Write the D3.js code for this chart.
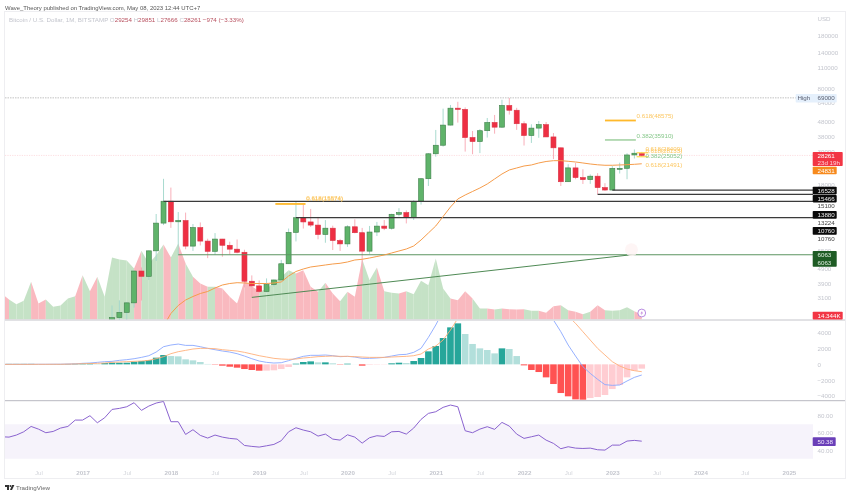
<!DOCTYPE html>
<html>
<head>
<meta charset="utf-8">
<style>
	html, body { margin: 0; padding: 0; background: #fff; }
	svg { display: block; filter: blur(0.3px); }
	text { font-family: "Liberation Sans", Inter, sans-serif; font-size: 6.2px; }
	.axis text { fill: #c4c6ce; }
	.axis .domain, .axis line { display: none; }
</style>
<script src="https://cdn.jsdelivr.net/npm/d3@7"></script>
</head>
<body>
<div id="graph"></div>
<script>
// monthly candles, first entry is 2016-02, rows are calendar years
const opens = [
	368,437,416,448,531,673,624,575,608,700,745,
	968,963,1190,1080,1348,2286,2480,2875,4710,4340,6440,9900,
	13900,10100,10300,6930,9240,7490,6390,7730,7020,6610,6300,4020,
	3740,3430,3820,4100,5270,8570,10760,10080,9600,8300,9150,7560,
	7170,9350,8530,6410,8620,9450,9140,11350,11650,10780,13800,19700,
	28990,33100,45240,58800,57700,37300,35040,41460,47100,43800,61300,56950,
	46200,38480,43170,45550,37650,31800,18800,23300,20050,19420,20490,17170,
	16528,23130,23140,28470,29254];
const highs = [
	448,440,470,550,780,705,630,660,740,755,980,
	1150,1200,1350,1350,2760,2990,2910,4740,4980,6470,11400,19666,
	17170,11750,11650,9760,10000,7770,8480,7750,7420,7680,6550,4400,
	4070,4200,4120,5600,9100,13880,13150,12330,10900,10370,9510,7750,
	9575,10500,9190,9470,10080,10380,11440,12470,12060,14100,19880,29300,
	41950,58350,61780,64900,59500,41300,42500,50500,52920,67000,69000,59100,
	47990,45800,48200,47450,40000,31950,24650,25200,22800,21050,21470,18380,
	23960,25250,29200,31000,29851];
const lows = [
	365,405,410,440,520,600,530,570,600,690,740,
	750,920,890,1060,1337,2076,1830,2670,2980,4100,5500,9600,
	9200,6000,6600,6430,7000,5750,6070,5880,6100,6200,3650,3130,
	3350,3380,3700,4100,5250,7450,9100,9320,7700,7300,6520,6430,
	6850,8450,3850,6150,8100,8880,8950,11000,9850,10400,13200,17600,
	27700,32400,44950,47000,30000,28800,29300,37300,39600,43300,53250,42000,
	32950,34300,37150,37600,26700,17600,18800,19550,18150,18180,15466,16300,
	16500,21350,19550,26950,27666];
const closes = [
	437,416,448,531,673,624,575,608,700,745,968,
	963,1190,1080,1348,2286,2480,2875,4710,4340,6440,9900,13900,
	10100,10300,6930,9240,7490,6390,7730,7020,6610,6300,4020,3740,
	3430,3820,4100,5270,8570,10760,10080,9600,8300,9150,7560,7170,
	9350,8530,6410,8620,9450,9140,11350,11650,10780,13800,19700,28990,
	33100,45240,58800,57700,37300,35040,41460,47100,43800,61300,56950,46200,
	38480,43170,45550,37650,31800,18800,23300,20050,19420,20490,17170,16528,
	23130,23140,28470,29254,28261];
const volumes = [
	78,60,46,56,113,48,60,38,42,63,70,
	133,85,128,68,186,180,177,153,206,168,193,225,
	186,228,168,128,108,98,98,93,68,48,116,100,
	85,90,113,128,148,138,148,98,83,110,78,55,
	83,68,181,118,156,85,80,78,85,76,116,103,
	183,93,63,58,85,63,33,33,30,33,31,30,
	31,26,26,20,40,43,28,23,16,23,43,28,
	26,28,37,25,14.344];
// moving average starts at 2017-12
const maStart = 11;
const maValues = [
	2008,
	2438,2760,3005,3173,3324,3429,3620,3792,3881,3930,3912,3881,
	3881,3881,3912,3973,4360,4675,4860,5013,5091,5171,5252,5309,
	5417,5588,5649,5763,5899,6038,6228,6424,6627,6942,7619,8492,
	9466,10968,12708,14386,15306,16162,17062,18155,19617,21197,22555,23262,
	23994,24372,25141,25730,26052,26052,25811,25532,25141,24750,24447,24261,
	24261,24372,24480,24630,24831];
const macdHist = [
	60,60,60,60,60,40,30,30,40,50,70,
	130,170,60,170,210,210,210,340,425,550,850,1190,
	1060,1020,640,510,300,50,-40,-170,-300,-425,-600,-720,
	-810,-800,-760,-600,-340,85,300,380,255,255,130,-40,
	85,10,-170,-60,-40,-30,130,210,170,425,810,1660,
	2340,3360,4720,5230,3870,2600,2040,1830,1400,2040,1960,1060,
	-130,-720,-980,-1660,-2510,-3660,-4080,-4470,-4510,-4300,-4170,-3910,
	-3150,-2640,-1660,-810,-550];
const macdLine = [
	0,0,0,0,5,10,10,15,20,40,60,
	130,170,255,340,380,510,595,720,890,1105,1570,2250,
	2465,2590,2420,2420,2250,2040,1870,1700,1570,1360,1060,720,
	425,255,170,210,470,765,1020,1150,1150,1190,1105,980,
	1020,935,765,765,810,890,1060,1230,1275,1530,2040,3440,
	5015,6800,8700,9700,10200,10500,10700,10800,10900,11300,11000,10300,
	9700,9000,8000,7200,5650,4165,2465,1060,-300,-1150,-1910,-2590,
	-2680,-2635,-2125,-1660,-1360];
const macdSignal = [
	0,0,0,0,0,5,5,10,10,30,50,
	85,100,130,170,255,300,340,380,425,510,720,980,
	1360,1615,1785,1955,2040,2040,2000,1870,1785,1700,1530,1320,
	1105,935,765,680,640,680,810,890,980,1020,1060,1020,
	1020,980,935,890,890,890,935,980,1020,1105,1320,1955,
	2340,3100,4380,5865,6900,7700,8300,8800,9100,9400,9600,9800,
	9800,9700,9400,8800,8100,6900,6160,5230,4165,3100,2040,1190,
	340,-210,-595,-810,-935];
const rsiValues = [
	55.5,55.1,57.5,61.3,67.5,64.4,60.2,61.7,65.6,67.5,74.9,
	74.9,80,71.8,77.6,87.3,88.5,90.4,95.1,86.2,91.2,94.7,96.6,
	73,73,58.2,63.7,57.1,54,57.5,55.1,53.6,52.8,45.4,44.3,
	43.5,45,46.6,50.9,61.3,66,63.3,61.3,56.3,58.6,52.8,51.6,
	57.8,55.1,48.1,54.4,56.7,55.9,61.3,61.7,58.6,65.6,75.7,82.7,
	84.6,89.7,92.4,90.4,62.5,60.2,64.4,67.2,64.1,72.2,67.9,58.6,
	53.6,55.5,57.5,51.6,47.8,41.6,43.9,42.3,41.9,42.3,40.4,40,
	45.8,45.8,50.5,51.3,50.38];

// axis labels
const timeTicks = [-6,0,6,12,18,24,30,36,42,48,54,60,66,72,78,84,90,96];
const timeLabels = ["Jul","2017","Jul","2018","Jul","2019","Jul","2020","Jul","2021","Jul","2022","Jul","2023","Jul","2024","Jul","2025"];
const priceTicks = [180000,140000,110000,80000,64000,48000,38000,30000,18000,6500,4900,3900,3100];
const macdTicks = [4000,2000,0,-2000,-4000];
const rsiTicks = [80,60,40];

// drawn levels: price, first month (0 is 2017-01)
const levelPrices = [16528,15466,13880,10760];
const levelStarts = [72,70,11,29];
const supportPrice = 6063, supportStart = 13;
const trendMonths = [23,74.6], trendPrices = [3130,6063];
// fib segments: price, months
const fibPrices = [48575,35910,13320,29450,27700];
const fibFrom = [71,71,26.2,75.3,75.3];
const fibTo = [75.2,75.2,30.3,76.9,76.9];
const fibColors = ["#ffb92b","#6fb86f","#ffb92b","#ffd84d","#ffd84d"];
const fibNames = ["0.618(48575)","0.382(35910)","0.618(15574)","0.618(15574)","0.618(28409)","0.618(28133)","0.382(25052)","0.618(21491)"];
const fibTextMonths = [75.3,75.3,30.4,30.4,76.5,76.5,76.5,76.5];
const fibTextPrices = [52000,38500,14760,14390,31100,30500,27950,24600];
const fibTextColors = ["#fcc762","#86c78a","#fcc762","#fcc762","#fcc762","#fcc762","#86c78a","#fcc762"];

const width = 850, height = 496;
const paneLeft = 5, plotRight = 813, paneRight = 845, paneTop = 12;
const firstMonth = -11;

const graph = d3.select("div#graph")
	.append("svg")
	.attr("width", width)
	.attr("height", height);

const xScale = d3.scaleLinear().domain([0,96]).range([82.6,788.9]);
const yPrice = d3.scaleLog().domain([3100,180000]).range([298,36]);
const yVolume = d3.scaleLinear().domain([0,300]).range([319.5,219.5]);
const yMacd = d3.scaleLinear().domain([-4000,4000]).range([395.7,333]);
const yRsi = d3.scaleLinear().domain([40,80]).range([450.1,415.7]);

const month = i => firstMonth + i;

function clip(id, y0, y1) {
	graph.append("clipPath").attr("id", id)
		.append("rect")
		.attr("x", paneLeft).attr("y", y0)
		.attr("width", plotRight - paneLeft).attr("height", y1 - y0);
}
clip("pricePane", paneTop, 319.5);
clip("macdPane", 321, 400);
clip("rsiPane", 401, 479);

// price pane
const pricePane = graph.append("g").attr("clip-path", "url(#pricePane)");

// volume area, one piece per month coloured like the candle that ends it
const volumeArea = d3.area()
	.x(d => xScale(d.m))
	.y0(yVolume(0))
	.y1(d => yVolume(d.v));
for (let i = 1; i < volumes.length; i++) {
	pricePane.append("path")
		.datum([{m: month(i-1), v: volumes[i-1]}, {m: month(i), v: volumes[i]}])
		.attr("fill", closes[i] < opens[i] ? "#f9b9bf" : "#c5e2c6")
		.attr("d", volumeArea);
}

// last price and all time high
pricePane.append("line")
	.attr("x1", paneLeft).attr("x2", plotRight)
	.attr("y1", yPrice(28261)).attr("y2", yPrice(28261))
	.attr("stroke", "#fbd5d9").attr("stroke-width", 0.8).attr("stroke-dasharray", "1.2 1.2");
graph.append("line")
	.attr("x1", paneLeft).attr("x2", 796)
	.attr("y1", yPrice(69000)).attr("y2", yPrice(69000))
	.attr("stroke", "#a8a8a8").attr("stroke-width", 0.7).attr("stroke-dasharray", "1.5 1");

// candles
const candles = pricePane.selectAll("g.candle")
	.data(opens.map((o,i) => ({m: month(i), o: o, h: highs[i], l: lows[i], c: closes[i]})))
	.enter().append("g").attr("class", "candle");
candles.append("line")
	.attr("x1", d => xScale(d.m)).attr("x2", d => xScale(d.m))
	.attr("y1", d => yPrice(d.h)).attr("y2", d => yPrice(d.l))
	.attr("stroke", d => d.c < d.o ? "#f7a6b1" : "#9fd6ca")
	.attr("stroke-width", 0.9);
candles.append("rect")
	.attr("x", d => xScale(d.m) - 2.5)
	.attr("width", 5)
	.attr("y", d => yPrice(Math.max(d.o, d.c)))
	.attr("height", d => Math.max(1, Math.abs(yPrice(d.o) - yPrice(d.c))))
	.attr("fill", d => d.c < d.o ? "#ee2f43" : "#5fb36a")
	.attr("stroke", d => d.c < d.o ? "#d93445" : "#3f7f4a")
	.attr("stroke-width", 0.6);

// horizontal levels
pricePane.selectAll("line.level")
	.data(levelPrices)
	.enter().append("line")
	.attr("class", "level")
	.attr("x1", (d,i) => xScale(levelStarts[i]))
	.attr("x2", plotRight)
	.attr("y1", d => yPrice(d)).attr("y2", d => yPrice(d))
	.attr("stroke", "#3b3b3b").attr("stroke-width", 1.2);
pricePane.append("line")
	.attr("x1", xScale(supportStart)).attr("x2", plotRight)
	.attr("y1", yPrice(supportPrice)).attr("y2", yPrice(supportPrice))
	.attr("stroke", "#5b9460").attr("stroke-width", 1.2);
pricePane.append("path")
	.datum(trendMonths.map((m,i) => [m, trendPrices[i]]))
	.attr("fill", "none").attr("stroke", "#4f8a55").attr("stroke-width", 1)
	.attr("d", d3.line().x(d => xScale(d[0])).y(d => yPrice(d[1])));

// moving average
pricePane.append("path")
	.datum(maValues)
	.attr("fill", "none").attr("stroke", "#f59c4b").attr("stroke-width", 1)
	.attr("d", d3.line().x((d,i) => xScale(maStart + i)).y(d => yPrice(d)));

// pale circle at the end of the trend line
graph.append("circle")
	.attr("cx", xScale(trendMonths[1])).attr("cy", yPrice(trendPrices[1]) - 5)
	.attr("r", 6.5).attr("fill", "#fef2f2").attr("fill-opacity", 0.8);

// fib segments and their names
graph.selectAll("line.fib")
	.data(fibPrices)
	.enter().append("line")
	.attr("class", "fib")
	.attr("x1", (d,i) => xScale(fibFrom[i])).attr("x2", (d,i) => xScale(fibTo[i]))
	.attr("y1", d => yPrice(d)).attr("y2", d => yPrice(d))
	.attr("stroke", (d,i) => fibColors[i])
	.attr("stroke-width", (d,i) => i == 1 ? 1 : (i < 3 ? 1.8 : 1.2));
graph.selectAll("text.fib")
	.data(fibNames)
	.enter().append("text")
	.attr("class", "fib")
	.attr("x", (d,i) => xScale(fibTextMonths[i]))
	.attr("y", (d,i) => yPrice(fibTextPrices[i]))
	.attr("dy", "0.35em")
	.attr("fill", (d,i) => fibTextColors[i])
	.text(d => d);

// the little event marker on the last bar
graph.append("circle")
	.attr("cx", xScale(76)).attr("cy", 313)
	.attr("r", 3.9).attr("fill", "#fff").attr("stroke", "#a66fd8").attr("stroke-width", 0.8);
graph.append("path")
	.attr("transform", `translate(${xScale(76)},313)`)
	.attr("d", "M0.6,-2.4 L-1.4,0.4 L-0.1,0.4 L-0.6,2.4 L1.4,-0.5 L0.1,-0.5 Z")
	.attr("fill", "#c58be0");

// macd pane
const macdPane = graph.append("g").attr("clip-path", "url(#macdPane)");
macdPane.selectAll("rect")
	.data(macdHist)
	.enter().append("rect")
	.attr("x", (d,i) => xScale(month(i)) - 3.3)
	.attr("width", 6.6)
	.attr("y", d => Math.min(yMacd(d), yMacd(0)))
	.attr("height", d => Math.abs(yMacd(d) - yMacd(0)))
	.attr("fill", (d,i) => {
		const prev = i ? macdHist[i-1] : d;
		if (d >= 0) return d >= prev ? "#26a69a" : "#b2dfdb";
		return d < prev ? "#ff5252" : "#ffcdd2";
	});
const macdPath = d3.line().x((d,i) => xScale(month(i))).y(d => yMacd(d));
macdPane.append("path").datum(macdLine)
	.attr("fill", "none").attr("stroke", "#8aa8ff").attr("stroke-width", 0.9).attr("d", macdPath);
macdPane.append("path").datum(macdSignal)
	.attr("fill", "none").attr("stroke", "#ffb07a").attr("stroke-width", 0.9).attr("d", macdPath);

// rsi pane
graph.append("rect")
	.attr("x", paneLeft).attr("width", plotRight - paneLeft)
	.attr("y", yRsi(70)).attr("height", yRsi(30) - yRsi(70))
	.attr("fill", "#f6f3fb");
graph.append("g").attr("clip-path", "url(#rsiPane)")
	.append("path").datum(rsiValues)
	.attr("fill", "none").attr("stroke", "#8a63cf").attr("stroke-width", 1)
	.attr("d", d3.line().x((d,i) => xScale(month(i))).y(d => yRsi(d)));

// frame and pane separators
const frame = graph.append("g");
frame.append("rect")
	.attr("x", paneLeft - 0.5).attr("y", paneTop - 0.5)
	.attr("width", paneRight - paneLeft + 1).attr("height", 479 - paneTop)
	.attr("fill", "none").attr("stroke", "#eeeef1").attr("stroke-width", 1);
frame.append("line").attr("x1", paneLeft).attr("x2", paneRight).attr("y1", 320).attr("y2", 320)
	.attr("stroke", "#c4c4ca").attr("stroke-width", 1);
frame.append("line").attr("x1", paneLeft).attr("x2", paneRight).attr("y1", 400.7).attr("y2", 400.7)
	.attr("stroke", "#b8b8c0").attr("stroke-width", 1);

// axes
graph.append("g").attr("class", "axis")
	.attr("transform", "translate(0,473)")
	.call(d3.axisBottom(xScale).tickValues(timeTicks).tickFormat((d,i) => timeLabels[i]).tickSize(0).tickPadding(0))
	.selectAll("text")
	.attr("y", 0).attr("dy", "0.35em")
	.attr("font-weight", (d,i) => timeLabels[i] == "Jul" ? 400 : 700)
	.style("fill", (d,i) => timeLabels[i] == "Jul" ? "#d4d6dc" : "#c4c6ce");

const axisX = 817.5;
graph.append("g").attr("class", "axis")
	.attr("transform", `translate(${axisX},0)`)
	.call(d3.axisRight(yPrice).tickValues(priceTicks).tickFormat(d3.format("d")).tickSize(0).tickPadding(0));
graph.append("g").attr("class", "axis")
	.attr("transform", `translate(${axisX},0)`)
	.call(d3.axisRight(yMacd).tickValues(macdTicks).tickFormat(d => String(d).replace("-", "\u2212")).tickSize(0).tickPadding(0));
graph.append("g").attr("class", "axis")
	.attr("transform", `translate(${axisX},0)`)
	.call(d3.axisRight(yRsi).tickValues(rsiTicks).tickFormat(d3.format(".2f")).tickSize(0).tickPadding(0));
graph.append("text").attr("x", axisX).attr("y", 19).attr("dy", "0.35em").attr("fill", "#c4c6ce").text("USD");

// price labels on the axis
function tag(x, y0, y1, w, fill) {
	graph.append("rect").attr("x", x).attr("y", y0).attr("width", w).attr("height", y1 - y0)
		.attr("rx", 0.8).attr("fill", fill);
}
function tagText(y, label, fill) {
	graph.append("text").attr("x", axisX).attr("y", y).attr("dy", "0.35em").attr("fill", fill).text(label);
}
tag(795.7, 94, 102.6, 41, "#e5f0fc");
graph.append("text").attr("x", 797.5).attr("y", 98.3).attr("dy", "0.35em").attr("fill", "#5a6072").text("High");
tagText(98.3, "69000", "#5a6072");
tag(812.7, 152, 166, 30, "#f23645");
tagText(155.6, "28261", "#fff");
tagText(162.6, "23d 19h", "#ffd0d5");
tag(812.7, 166.7, 174.3, 24, "#f78a1d");
tagText(170.5, "24831", "#fff");
tag(812.7, 186.7, 194.4, 24, "#0a0a0a");
tagText(190.6, "16528", "#eee");
tag(812.7, 195, 202.4, 24, "#0a0a0a");
tagText(198.8, "15466", "#eee");
tagText(206.3, "15100", "#444");
tag(812.7, 211, 218.7, 24, "#0a0a0a");
tagText(214.8, "13880", "#eee");
tagText(222.8, "13224", "#444");
tag(812.7, 227, 234.7, 24, "#0a0a0a");
tagText(230.8, "10760", "#eee");
tagText(239, "10760", "#444");
tag(812.7, 251, 266.8, 24, "#1e5b24");
tagText(255, "6063", "#dfeee0");
tagText(263, "6063", "#dfeee0");
tag(812.7, 311.7, 319.5, 30, "#f23645");
tagText(315.7, "14.344K", "#fff");
tag(812.7, 437.3, 446, 23, "#6a3fb8");
tagText(441.7, "50.38", "#f0e8fb");

// header
graph.append("text").attr("x", 5).attr("y", 7.5).attr("dy", "0.35em").attr("fill", "#555")
	.style("font-size", "5.95px")
	.text("Wave_Theory published on TradingView.com, May 08, 2023 12:44 UTC+7");
const legend = graph.append("text").attr("x", 9).attr("y", 20).attr("dy", "0.35em").attr("fill", "#c3c5cd");
legend.append("tspan").text("Bitcoin / U.S. Dollar, 1M, BITSTAMP  O");
legend.append("tspan").attr("fill", "#b8505f").text("29254");
legend.append("tspan").text(" H");
legend.append("tspan").attr("fill", "#b8505f").text("29851");
legend.append("tspan").text(" L");
legend.append("tspan").attr("fill", "#b8505f").text("27666");
legend.append("tspan").text(" C");
legend.append("tspan").attr("fill", "#b8505f").text("28261");
legend.append("tspan").attr("fill", "#b8505f").text("  \u2212974 (\u22123.33%)");

// footer logo
const logo = graph.append("g").attr("transform", "translate(5,485)");
logo.append("path").attr("d", "M0,0 H4 V5 H2 V2 H0 Z").attr("fill", "#333");
logo.append("circle").attr("cx", 5.4).attr("cy", 1).attr("r", 1).attr("fill", "#333");
logo.append("path").attr("d", "M7,0 H9.4 L7,5 H5 Z").attr("fill", "#333");
graph.append("text").attr("x", 16).attr("y", 488).attr("dy", "0.35em").attr("fill", "#666").text("TradingView");
</script>
</body>
</html>
